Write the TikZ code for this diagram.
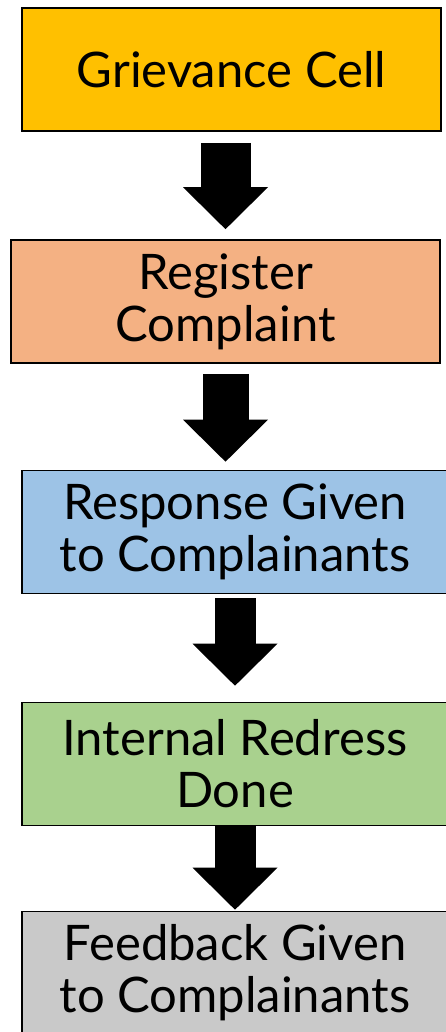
\documentclass[tikz,border=0pt]{standalone}
\usepackage{fontspec}
\setmainfont{Lato}
\usetikzlibrary{arrows.meta}

\definecolor{cellfill}{HTML}{FFC000}
\definecolor{regfill}{HTML}{F4B183}
\definecolor{respfill}{HTML}{9DC3E6}
\definecolor{redressfill}{HTML}{A9D18E}
\definecolor{feedfill}{HTML}{C9C9C9}

\begin{document}
\begin{tikzpicture}[x=1pt,y=1pt,
        box/.style={rectangle,draw=black,line width=1.6pt,inner sep=0pt,align=center,
            minimum height=123pt,font=\fontsize{49}{52}\selectfont},
        flow/.style={line width=46pt,-{Triangle[length=42pt,width=85pt,line width=0pt]}}]
    \useasboundingbox (0,0) rectangle (445,-1032);

    \node[box,fill=cellfill,minimum width=419pt] (cell) at (231.5,-69.5) {Grievance Cell};
    \node[box,fill=regfill,minimum width=429pt] (reg) at (225.5,-301.5) {Register\\Complaint};
    \node[box,fill=respfill,minimum width=426pt] (resp) at (235,-532) {Response Given\\to Complainants};
    \node[box,fill=redressfill,minimum width=426pt] (redress) at (235,-764) {Internal Redress\\Done};
    \node[box,fill=feedfill,minimum width=426pt] (feed) at (235,-973) {Feedback Given\\to Complainants};

    \draw[flow,line width=50pt,shorten <=11pt,shorten >=10pt] (cell.south -| reg.north) -- (reg.north);
    \draw[flow,shorten <=10pt,shorten >=8pt] (reg.south) -- (reg.south |- resp.north);
    \draw[flow,line width=41pt,shorten <=4pt,shorten >=16pt] (resp.south) -- (resp.south |- redress.north);
    \draw[flow,line width=41pt,shorten >=1pt] (redress.south) -- (redress.south |- feed.north);
\end{tikzpicture}
\end{document}
